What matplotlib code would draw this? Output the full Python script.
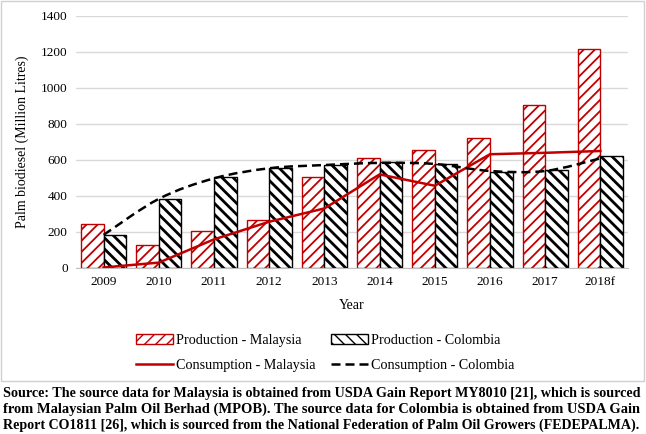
# palm biodiesel production / consumption, Malaysia vs Colombia
import numpy as np
import matplotlib.pyplot as plt
from matplotlib.font_manager import FontProperties
from matplotlib.path import Path
from matplotlib.patches import PathPatch, Rectangle, Patch
from matplotlib.lines import Line2D

plt.rcParams['font.family'] = 'Liberation Serif'

# data (million litres)
years = ['2009', '2010', '2011', '2012', '2013', '2014', '2015', '2016', '2017', '2018f']
prod_my = [245, 130, 204, 269, 506, 609, 657, 724, 906, 1219]
prod_co = [184, 383, 504, 557, 572, 587, 580, 532, 543, 620]
cons_my = [3, 30, 159, 257, 331, 520, 457, 632, 640, 650]
cons_co = [184, 384, 498, 554, 572, 584, 578, 539, 539, 609]

source_lines = [
    "Source: The source data for Malaysia is obtained from USDA Gain Report MY8010 [21], which is sourced",
    "from Malaysian Palm Oil Berhad (MPOB). The source data for Colombia is obtained from USDA Gain",
    "Report CO1811 [26], which is sourced from the National Federation of Palm Oil Growers (FEDEPALMA).",
]

RED = '#c00000'
W, H = 646, 434
DASH = (0, (3.6, 2.0))


def smooth_path(x, y):
    # excel-style smoothed line: catmull-rom turned into cubic beziers
    pts = np.column_stack([x, y]).astype(float)
    verts = [pts[0]]
    codes = [Path.MOVETO]
    n = len(pts)
    for i in range(n - 1):
        p0 = pts[max(i - 1, 0)]
        p1 = pts[i]
        p2 = pts[i + 1]
        p3 = pts[min(i + 2, n - 1)]
        c1 = p1 + (p2 - p0) / 6
        c2 = p2 - (p3 - p1) / 6
        verts += [c1, c2, p2]
        codes += [Path.CURVE4] * 3
    return Path(verts, codes)


fig = plt.figure(figsize=(W / 100, H / 100), dpi=100)
ax = fig.add_axes([76 / W, 1 - 268 / H, 552 / W, 252 / H])

x = np.arange(len(years))
bw = 0.41

with plt.rc_context({'hatch.linewidth': 1.3}):
    ax.bar(x - bw / 2, prod_my, bw, facecolor='white', edgecolor=RED,
           hatch='///', linewidth=1.0, zorder=2)
with plt.rc_context({'hatch.linewidth': 2.0}):
    ax.bar(x + bw / 2, prod_co, bw, facecolor='white', edgecolor='black',
           hatch='\\\\\\', linewidth=1.0, zorder=2)

# malaysia consumption is a plain polyline, colombia is smoothed
ax.plot(x, cons_my, color=RED, linewidth=1.8, zorder=3)
ax.add_patch(PathPatch(smooth_path(x, cons_co), facecolor='none', edgecolor='black',
                       linewidth=1.8, linestyle=DASH, zorder=3))

ax.set_xlim(-0.5, len(years) - 0.5)
ax.set_ylim(0, 1400)
ax.set_yticks(range(0, 1401, 200))
ax.set_xticks(x)
ax.set_xticklabels(years)
ax.tick_params(length=0, labelsize=9.5, pad=6)
ax.grid(axis='y', color='#d9d9d9', linewidth=1.0, zorder=0)
ax.set_axisbelow(True)
for s in ['left', 'right', 'top']:
    ax.spines[s].set_visible(False)
ax.spines['bottom'].set_color('#bfbfbf')

ax.set_ylabel('Palm biodiesel (Million Litres)', fontsize=10, labelpad=9)
ax.set_xlabel('Year', fontsize=10, labelpad=8)

handles = [
    Patch(facecolor='white', edgecolor=RED, hatch='///'),
    Line2D([], [], color=RED, linewidth=1.8),
    Patch(facecolor='white', edgecolor='black', hatch='\\\\\\'),
    Line2D([], [], color='black', linewidth=1.8, linestyle=DASH),
]
labels = ['Production - Malaysia', 'Consumption - Malaysia',
          'Production - Colombia', 'Consumption - Colombia']
fig.legend(handles, labels, ncol=2, loc='center', bbox_to_anchor=(325 / W, 1 - 353 / H),
           frameon=False, fontsize=10.2, handlelength=2.6, handletextpad=0.2,
           columnspacing=1.1, labelspacing=0.8)

# grey frame round the chart area
fig.add_artist(Rectangle((1 / W, 1 - 381 / H), 643 / W, 380 / H, transform=fig.transFigure,
                         facecolor='none', edgecolor='#d0d0d0', linewidth=1.0))

# bold source note, one text per line, size picked so each line fills the width
renderer = fig.canvas.get_renderer()
left, right = 3, 642
for k, line in enumerate(source_lines):
    ypix = 394 + k * 15.5
    prop = FontProperties(family='Liberation Serif', weight='bold', size=10)
    wd = renderer.get_text_width_height_descent(line, prop, ismath=False)[0]
    size = min(10 * (right - left) / wd, 10.6)
    fig.text(left / W, 1 - ypix / H, line, fontsize=size, fontweight='bold', va='center')

fig.savefig('out.png', dpi=100)
